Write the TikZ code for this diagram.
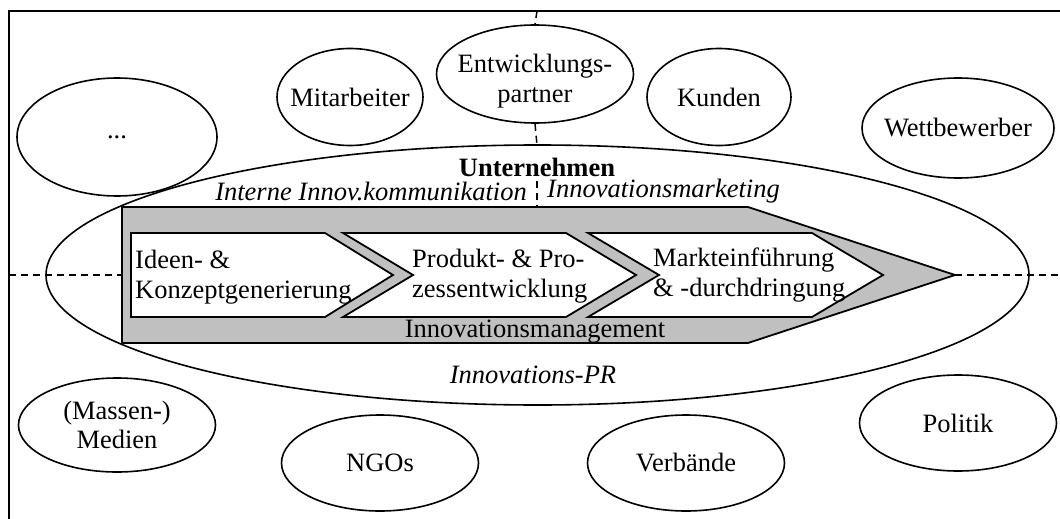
\documentclass[tikz,border=0pt]{standalone}
\usepackage{fontspec}
\setmainfont{Liberation Serif}
\usetikzlibrary{shapes.geometric}
\definecolor{chevgrey}{RGB}{192,192,192}
\begin{document}
\begin{tikzpicture}[x=1pt,y=-1pt,
  every node/.style={font=\fontsize{26.5}{29.5}\selectfont, inner sep=0pt},
  stake/.style={draw, ellipse, line width=1.6pt, fill=white, inner sep=0pt},
  dsh/.style={line width=1.5pt, dash pattern=on 7pt off 5pt},
  chev/.style={draw, line width=1.8pt, fill=white},
  lbl/.style={align=center}]
\useasboundingbox (0,0) rectangle (1060,519);
\fill[white] (0,0) rectangle (1060,519);
\clip (0,0) rectangle (1060,519);
% frame
\draw[line width=2.4pt] (9,540) -- (9,11) -- (1080,11);
% company ellipse
\node[draw, ellipse, line width=1.6pt, minimum width=983, minimum height=260] (unt) at (537.5,275) {};
% stakeholder ellipses
\node[stake, minimum width=200, minimum height=118] (etc) at (117,137) {};
\node[stake, minimum width=146, minimum height=97] (mit) at (350,97) {};
\node[stake, minimum width=197, minimum height=98] (ew) at (535,74) {};
\node[stake, minimum width=144, minimum height=97] (kun) at (719,97) {};
\node[stake, minimum width=192, minimum height=100] (wet) at (958,128) {};
\node[stake, minimum width=197, minimum height=94] (med) at (117,425) {};
\node[stake, minimum width=197, minimum height=96] (ngo) at (380,463) {};
\node[stake, minimum width=197, minimum height=96] (ver) at (686,463) {};
\node[stake, minimum width=197, minimum height=96] (pol) at (958,423) {};
\node (etcT) at (etc) {...};
\node (mitT) at (mit) {Mitarbeiter};
\node[lbl] (ewT) at ([yshift=-7]ew.center) {Entwicklungs-\\partner};
\node (kunT) at (kun) {Kunden};
\node (wetT) at (wet) {Wettbewerber};
\node[lbl] (medT) at (med) {(Massen-)\\Medien};
\node (ngoT) at (ngo) {NGOs};
\node (verT) at (ver) {Verbände};
\node (polT) at (pol) {Politik};
% axes
\coordinate (ftop) at (537,11);
\coordinate (uin) at (537,145);
\coordinate (lsep) at (537,181);
\coordinate (gtop) at (537,207);
\coordinate (fleft) at (9,275);
\coordinate (gleft) at (122,275);
\coordinate (gtip) at (955,275);
\coordinate (fright) at (1060,275);
\draw[dsh] (ftop) -- (ew.north);
\draw[dsh] (ew.south) -- (uin);
\draw[dsh] (lsep) -- (gtop);
\draw[dsh] (fleft) -- (gleft);
\draw[dsh] (gtip) -- (fright);
% labels in company
\node[font=\fontsize{26.5}{29}\selectfont\bfseries] (untT) at (537,167) {Unternehmen};
\node[anchor=east, font=\fontsize{26.5}{29}\selectfont\itshape] (iik) at (527,191) {Interne Innov.kommunikation};
\node[anchor=west, font=\fontsize{26.5}{29}\selectfont\itshape] (imk) at (547,191) {Innovationsmarketing};
\node[font=\fontsize{26.5}{29}\selectfont\itshape] (ipr) at (533,375) {Innovations-PR};
% innovation management arrow
\draw[line width=1.8pt, fill=chevgrey] (122,207) -- (748,207) -- (gtip) -- (748,343) -- (122,343) -- cycle;
\node (imT) at (535,332) {Innovationsmanagement};
% phases
\draw[chev] (131,233) -- (325,233) -- (393,275) -- (325,317) -- (131,317) -- cycle;
\draw[chev] (343,233) -- (566,233) -- (636,275) -- (566,317) -- (343,317) -- (413,275) -- cycle;
\draw[chev] (588,233) -- (812,233) -- (883,275) -- (812,317) -- (588,317) -- (659,275) -- cycle;
\node[anchor=west, align=left] (p1) at (135,277) {Ideen- \&\\Konzeptgenerierung};
\node[anchor=west, align=left] (p2) at (412,276) {Produkt- \& Pro-\\zessentwicklung};
\node[anchor=west, align=left] (p3) at (653,275) {Markteinführung\\\& -durchdringung};
\end{tikzpicture}
\end{document}
